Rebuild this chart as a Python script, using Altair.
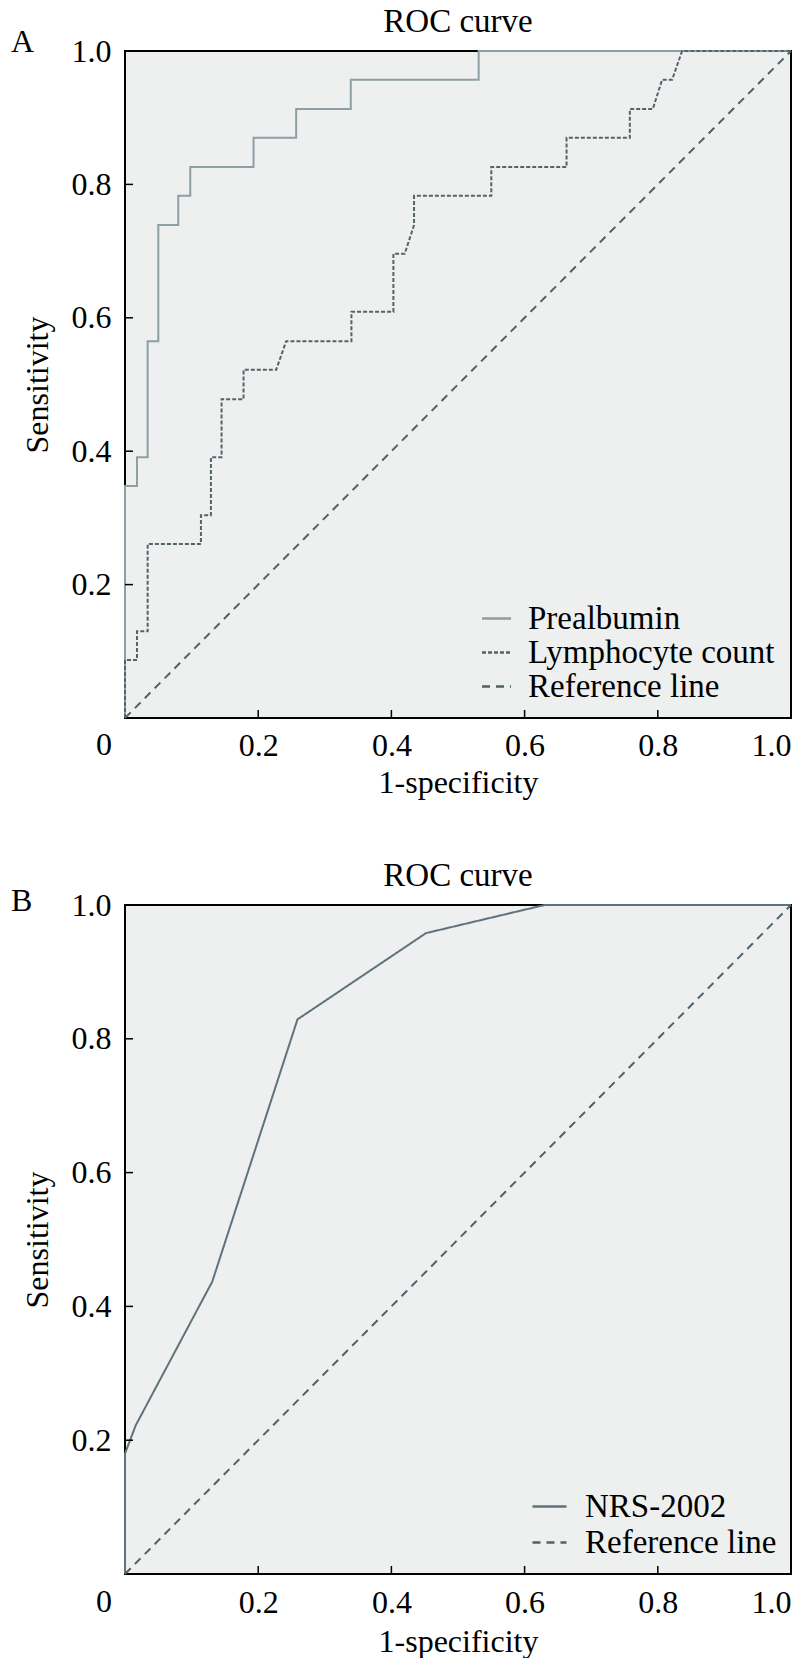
import altair as alt
import pandas as pd

FONT = "Liberation Serif"

# ---------------- data ----------------
# Panel A
pre_fpr = [0.0, 0.0, 0.018, 0.018, 0.034, 0.034, 0.05, 0.05, 0.08, 0.08, 0.098, 0.098,
           0.193, 0.193, 0.257, 0.257, 0.339, 0.339, 0.531, 0.531, 1.0]
pre_tpr = [0.0, 0.348, 0.348, 0.391, 0.391, 0.565, 0.565, 0.739, 0.739, 0.783, 0.783, 0.826,
           0.826, 0.870, 0.870, 0.913, 0.913, 0.957, 0.957, 1.0, 1.0]

lym_fpr = [0.0, 0.0, 0.018, 0.018, 0.034, 0.034, 0.114, 0.114, 0.129, 0.129, 0.145, 0.145,
           0.178, 0.178, 0.227, 0.242, 0.34, 0.34, 0.403, 0.403, 0.42, 0.434, 0.434,
           0.55, 0.55, 0.663, 0.663, 0.758, 0.758, 0.7925, 0.8065, 0.8215, 0.8365, 1.0]
lym_tpr = [0.0, 0.087, 0.087, 0.130, 0.130, 0.261, 0.261, 0.304, 0.304, 0.391, 0.391, 0.478,
           0.478, 0.522, 0.522, 0.565, 0.565, 0.609, 0.609, 0.696, 0.696, 0.739, 0.783,
           0.783, 0.826, 0.826, 0.870, 0.870, 0.913, 0.913, 0.957, 0.957, 1.0, 1.0]

ref_fpr = [0.0, 1.0]
ref_tpr = [0.0, 1.0]

# Panel B
nrs_fpr = [0.0, 0.0, 0.016, 0.131, 0.259, 0.452, 0.63, 1.0]
nrs_tpr = [0.0, 0.18, 0.222, 0.437, 0.829, 0.958, 1.0, 1.0]

names_a = ["Prealbumin", "Lymphocyte count", "Reference line"]
names_b = ["NRS-2002", "Reference line"]

tick_vals = [0.2, 0.4, 0.6, 0.8]
label_vals = [0.2, 0.4, 0.6, 0.8, 1.0]
corner_label = ["0"]
title_text = ["ROC curve"]

W = 666


def series_df(name, xs, ys):
    return pd.DataFrame({"series": name, "fpr": xs, "tpr": ys, "order": list(range(len(xs)))})


def panel(dfs, names, colors, dashes, letter, letter_y, leg_x, leg_y, sym_size, lab_off,
          H, lab_pad, title_pad):
    data = pd.concat(dfs, ignore_index=True)
    xs = alt.Scale(domain=[0, 1], nice=False, zero=False)
    ys = alt.Scale(domain=[0, 1], nice=False, zero=False)
    leg = alt.Legend(
        title=None, orient="none", legendX=leg_x, legendY=leg_y,
        labelFont=FONT, labelFontSize=33, labelColor="black", labelLimit=500,
        symbolType="stroke", symbolSize=sym_size, symbolStrokeWidth=2.5,
        labelOffset=lab_off, rowPadding=0, padding=0,
    )
    lines = alt.Chart(data).mark_line(strokeWidth=2).encode(
        x=alt.X("fpr:Q", scale=xs,
                axis=alt.Axis(values=label_vals, format=".1f", title="1-specificity",
                              labelPadding=lab_pad, titlePadding=title_pad)),
        y=alt.Y("tpr:Q", scale=ys,
                axis=alt.Axis(values=label_vals, format=".1f", title="Sensitivity")),
        color=alt.Color("series:N", scale=alt.Scale(domain=names, range=colors), legend=leg),
        strokeDash=alt.StrokeDash("series:N", scale=alt.Scale(domain=names, range=dashes), legend=leg),
        order="order:Q",
    )
    xt = alt.Chart(pd.DataFrame({"fpr": tick_vals})).mark_rule(color="black", strokeWidth=1.5).encode(
        x=alt.X("fpr:Q", scale=xs), y=alt.value(H), y2=alt.value(H - 8)
    )
    yt = alt.Chart(pd.DataFrame({"tpr": tick_vals})).mark_rule(color="black", strokeWidth=1.5).encode(
        y=alt.Y("tpr:Q", scale=ys), x=alt.value(0), x2=alt.value(8)
    )
    zero = alt.Chart(pd.DataFrame({"fpr": [0.0], "lab": corner_label})).mark_text(
        font=FONT, fontSize=32, baseline="top", align="center", dx=-21, color="black"
    ).encode(x=alt.X("fpr:Q", scale=xs), y=alt.value(H + lab_pad), text="lab:N")
    let = alt.Chart(pd.DataFrame({"lab": [letter]})).mark_text(
        font=FONT, fontSize=32, baseline="middle", align="left", color="black"
    ).encode(x=alt.value(-114), y=alt.value(letter_y), text="lab:N")
    ttl = alt.Chart(pd.DataFrame({"lab": title_text})).mark_text(
        font=FONT, fontSize=33, baseline="alphabetic", align="center", color="black"
    ).encode(x=alt.value(W / 2), y=alt.value(-19), text="lab:N")
    return alt.layer(lines, xt, yt, zero, let, ttl).properties(width=W, height=H)


panel_a = panel(
    [series_df(names_a[0], pre_fpr, pre_tpr),
     series_df(names_a[1], lym_fpr, lym_tpr),
     series_df(names_a[2], ref_fpr, ref_tpr)],
    names_a,
    ["#8d9ea5", "#53636a", "#4f6169"],
    [[1, 0], [4, 2], [8, 6]],
    "A", -9, 355, 551, 841, 15,
    667, 12, 6,
)

panel_b = panel(
    [series_df(names_b[0], nrs_fpr, nrs_tpr),
     series_df(names_b[1], ref_fpr, ref_tpr)],
    names_b,
    ["#5f737c", "#4f6169"],
    [[1, 0], [8, 6]],
    "B", -4, 406, 583, 1156, 17,
    669, 13, 8,
)

chart = alt.vconcat(panel_a, panel_b, spacing=60).resolve_scale(
    color="independent", strokeDash="independent"
).resolve_legend(
    color="independent", strokeDash="independent"
).properties(
    padding={"left": 2, "top": -3, "right": 0, "bottom": 0}
).configure_view(
    fill="#eef0f0", stroke="black", strokeWidth=2
).configure_axis(
    domain=False, ticks=False, grid=False,
    labelFont=FONT, labelFontSize=32, labelColor="black",
    titleFont=FONT, titleFontSize=32, titleFontWeight="normal", titleColor="black",
).configure_axisY(
    labelPadding=14, titlePadding=17
)

chart.save("out.html", embed_options={"renderer": "svg", "actions": False})
